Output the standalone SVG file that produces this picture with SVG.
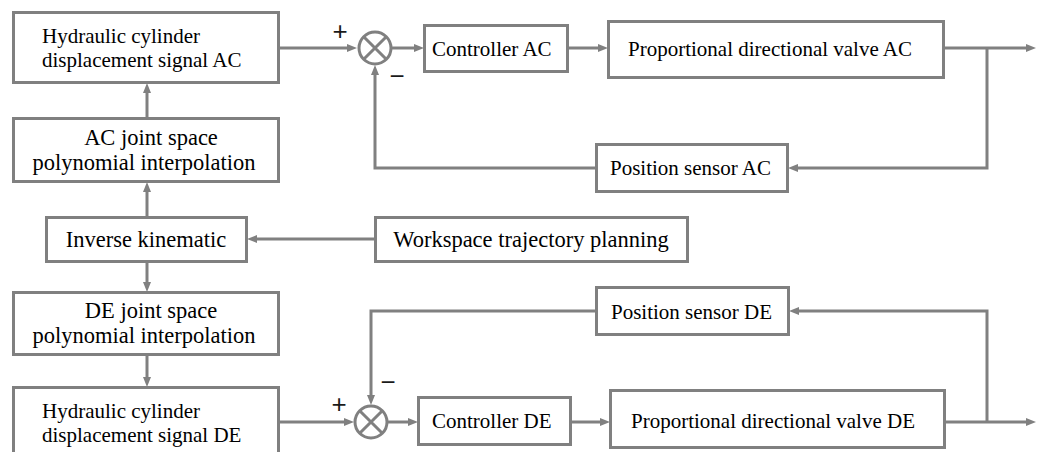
<svg xmlns="http://www.w3.org/2000/svg" width="1043" height="452" viewBox="0 0 1043 452">
  <style>
    .box { fill: #ffffff; stroke: #808080; stroke-width: 3; }
    .wire { fill: none; stroke: #808080; stroke-width: 3; marker-end: url(#arrow); }
    .sum { fill: #ffffff; stroke: #808080; stroke-width: 3; }
    .tnr { font-family: 'Liberation Serif', 'DejaVu Serif', serif; font-size: 21px; fill: #000000; }
    .cam { font-family: 'Liberation Serif', 'DejaVu Serif', serif; font-size: 22.5px; fill: #000000; }
    .sign { font-family: 'Liberation Sans', 'DejaVu Sans', sans-serif; font-size: 26px; fill: #1a1a1a; text-anchor: middle; }
  </style>
  <defs>
    <marker id="arrow" markerUnits="userSpaceOnUse" markerWidth="10" markerHeight="8" refX="4" refY="4" orient="auto">
      <path d="M0,0 L10,4 L0,8 Z" fill="#808080"/>
    </marker>
  </defs>
  <rect width="1043" height="452" fill="#ffffff"/>

  <!-- connectors -->
  <g id="connectors">
    <path class="wire" d="M279,48 H351"/>
    <path class="wire" d="M392,48 H418"/>
    <path class="wire" d="M568,48 H602"/>
    <path class="wire" d="M944,48 H1030"/>
    <path class="wire" d="M987,48 V168 H794"/>
    <path class="wire" d="M596,168 H375 V71"/>
    <path class="wire" d="M147,118 V89"/>
    <path class="wire" d="M147,217 V188"/>
    <path class="wire" d="M375,239 H253"/>
    <path class="wire" d="M147,262 V286"/>
    <path class="wire" d="M147,354 V381"/>
    <path class="wire" d="M279,422 H348"/>
    <path class="wire" d="M388,422 H412"/>
    <path class="wire" d="M571,422 H604"/>
    <path class="wire" d="M945,422 H1030"/>
    <path class="wire" d="M987,422 V311 H795"/>
    <path class="wire" d="M596,311 H371 V399"/>
  </g>

  <!-- upper loop (AC) -->
  <g id="hyd-ac">
    <rect class="box" x="13.5" y="12.5" width="265" height="70"/>
    <text class="tnr" x="42" y="43">Hydraulic cylinder</text>
    <text class="tnr" x="42" y="67">displacement signal AC</text>
  </g>
  <g id="sum-ac">
    <circle class="sum" cx="375" cy="48" r="16"/>
    <path d="M363.7,36.7 L386.3,59.3 M386.3,36.7 L363.7,59.3" stroke="#808080" stroke-width="3"/>
    <text class="sign" x="340" y="40">+</text>
    <text class="sign" x="397" y="85">−</text>
  </g>
  <g id="ctrl-ac">
    <rect class="box" x="424.5" y="25.5" width="143" height="46"/>
    <text class="tnr" x="432" y="56">Controller AC</text>
  </g>
  <g id="valve-ac">
    <rect class="box" x="608.5" y="21.5" width="335" height="56"/>
    <text class="tnr" x="628" y="56">Proportional directional valve AC</text>
  </g>
  <g id="sensor-ac">
    <rect class="box" x="596.5" y="144.5" width="191" height="47"/>
    <text class="tnr" x="610" y="175">Position sensor AC</text>
  </g>
  <g id="joint-ac">
    <rect class="box" x="13.5" y="118.5" width="265" height="63"/>
    <text class="cam" x="151" y="145" text-anchor="middle">AC joint space</text>
    <text class="cam" x="144" y="170" text-anchor="middle">polynomial interpolation</text>
  </g>

  <!-- planning -->
  <g id="inverse">
    <rect class="box" x="46.5" y="217.5" width="200" height="44"/>
    <text class="cam" x="146" y="247" text-anchor="middle">Inverse kinematic</text>
  </g>
  <g id="workspace">
    <rect class="box" x="375.5" y="217.5" width="312" height="44"/>
    <text class="cam" x="531" y="247" text-anchor="middle">Workspace trajectory planning</text>
  </g>

  <!-- lower loop (DE) -->
  <g id="joint-de">
    <rect class="box" x="13.5" y="292.5" width="265" height="62"/>
    <text class="cam" x="151" y="318" text-anchor="middle">DE joint space</text>
    <text class="cam" x="144" y="343" text-anchor="middle">polynomial interpolation</text>
  </g>
  <g id="hyd-de">
    <rect class="box" x="13.5" y="387.5" width="265" height="70"/>
    <text class="tnr" x="42" y="418">Hydraulic cylinder</text>
    <text class="tnr" x="42" y="442">displacement signal DE</text>
  </g>
  <g id="sum-de">
    <circle class="sum" cx="371" cy="422" r="16"/>
    <path d="M359.7,410.7 L382.3,433.3 M382.3,410.7 L359.7,433.3" stroke="#808080" stroke-width="3"/>
    <text class="sign" x="339" y="413">+</text>
    <text class="sign" x="388" y="391">−</text>
  </g>
  <g id="ctrl-de">
    <rect class="box" x="418.5" y="397.5" width="152" height="47"/>
    <text class="tnr" x="432" y="428">Controller DE</text>
  </g>
  <g id="valve-de">
    <rect class="box" x="610.5" y="390.5" width="334" height="57"/>
    <text class="tnr" x="631" y="428">Proportional directional valve DE</text>
  </g>
  <g id="sensor-de">
    <rect class="box" x="596.5" y="287.5" width="192" height="47"/>
    <text class="tnr" x="611" y="319">Position sensor DE</text>
  </g>
</svg>
